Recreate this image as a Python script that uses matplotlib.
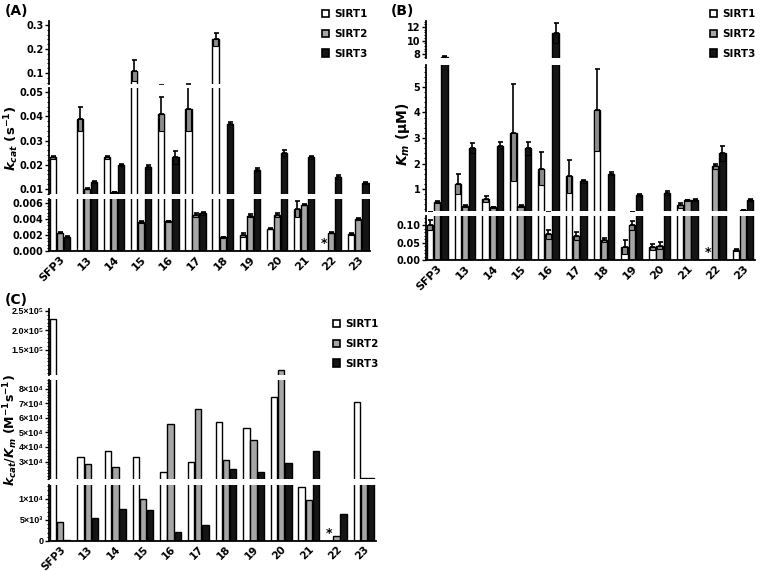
import numpy as np
import matplotlib.pyplot as plt
from matplotlib.patches import Patch
from matplotlib.ticker import AutoMinorLocator

plt.rcParams['font.family'] = ['DejaVu Sans']
plt.rcParams['font.weight'] = 'bold'
plt.rcParams['mathtext.fontset'] = 'custom'
plt.rcParams['mathtext.rm'] = 'DejaVu Sans:bold'
plt.rcParams['mathtext.bf'] = 'DejaVu Sans:bold'
plt.rcParams['mathtext.it'] = 'DejaVu Sans:italic:bold'

# --- DATA ---
compounds = ['SFP3', '13', '14', '15', '16', '17', '18', '19', '20', '21', '22', '23']
series = ['SIRT1', 'SIRT2', 'SIRT3']
nan = np.nan

# (A) kcat (s^-1)
kcat_sirt1 = [0.023, 0.039, 0.023, 0.11, 0.041, 0.043, 0.24, 0.0020, 0.0028, 0.0052, nan, 0.0021]
kcat_sirt2 = [0.0023, 0.010, 0.0086, 0.0036, 0.0037, 0.0045, 0.0017, 0.0044, 0.0045, 0.0058, 0.0023, 0.0040]
kcat_sirt3 = [0.0018, 0.013, 0.020, 0.019, 0.023, 0.0047, 0.037, 0.018, 0.025, 0.023, 0.015, 0.0125]
kcat_err1 = [0.0007, 0.005, 0.0008, 0.045, 0.007, 0.009, 0.026, 0.0002, 0.0001, 0.0010, nan, 0.0001]
kcat_err2 = [0.0001, 0.0002, 0.0001, 0.0001, 0.0001, 0.0002, 0.0001, 0.0002, 0.0002, 0.0001, 0.0001, 0.0001]
kcat_err3 = [0.0001, 0.0004, 0.0004, 0.0008, 0.0025, 0.0002, 0.0005, 0.0008, 0.0012, 0.0008, 0.0009, 0.0004]

# (B) Km (uM)
km_sirt1 = [0.10, 1.2, 0.6, 3.2, 1.8, 1.5, 4.1, 0.038, 0.037, 0.36, nan, 0.029]
km_sirt2 = [0.5, 0.33, 0.28, 0.33, 0.074, 0.069, 0.057, 0.10, 0.041, 0.57, 1.9, 0.16]
km_sirt3 = [7.6, 2.6, 2.7, 2.6, 11.1, 1.3, 1.6, 0.77, 0.85, 0.57, 2.4, 0.57]
km_err1 = [0.015, 0.4, 0.12, 1.9, 0.65, 0.65, 1.6, 0.02, 0.008, 0.1, nan, 0.003]
km_err2 = [0.04, 0.03, 0.02, 0.03, 0.013, 0.012, 0.005, 0.013, 0.01, 0.02, 0.1, 0.0]
km_err3 = [0.15, 0.2, 0.15, 0.25, 1.5, 0.07, 0.05, 0.05, 0.07, 0.05, 0.3, 0.04]

# (C) kcat/Km (M^-1 s^-1)
eff_sirt1 = [2.3e5, 3.3e4, 3.7e4, 3.3e4, 2.3e4, 3.0e4, 5.7e4, 5.3e4, 7.4e4, 1.29e4, nan, 7.1e4]
eff_sirt2 = [4.5e3, 2.8e4, 2.6e4, 1.0e4, 5.6e4, 6.6e4, 3.1e4, 4.5e4, 9.7e4, 9.8e3, 1.2e3, 1.9e4]
eff_sirt3 = [200, 5.4e3, 7.6e3, 7.4e3, 2.2e3, 3.7e3, 2.5e4, 2.3e4, 2.9e4, 3.7e4, 6.3e3, 1.9e4]
# ------------

W, H = 762, 571
fig = plt.figure(figsize=(7.62, 5.71), dpi=100)

colors = ['white', '#a6a6a6', '#151515']
x = np.arange(len(compounds))
offs = [-0.26, 0.0, 0.26]
bw = 0.23


def px_axes(x0, x1, y0, y1):
    return fig.add_axes([x0 / W, 1 - y1 / H, (x1 - x0) / W, (y1 - y0) / H])


def draw_segment(ax, vals, errs, ylim, ticks, labels, is_bottom, xsize):
    for k in range(3):
        v = np.array(vals[k], dtype=float)
        ok = ~np.isnan(v)
        xs = x[ok] + offs[k]
        ax.bar(xs, v[ok], width=bw, color=colors[k], edgecolor='k', linewidth=1.0)
        if errs is not None:
            e = np.array(errs[k], dtype=float)[ok]
            box = '#8c8c8c' if k < 2 else colors[2]
            ax.bar(xs, e, bottom=v[ok] - e, width=bw * 0.75, color=box,
                   edgecolor='k', linewidth=0.8)
            ax.errorbar(xs, v[ok], yerr=[np.zeros_like(e), e], fmt='none',
                        ecolor='k', elinewidth=1.2, capsize=1.8, capthick=1.2)
    ax.set_ylim(*ylim)
    ax.set_xlim(-0.4, 11.43)
    ax.set_yticks(ticks)
    ax.set_yticklabels(labels)
    ax.yaxis.set_minor_locator(AutoMinorLocator(5))
    ax.tick_params(axis='y', which='major', length=3, width=1, labelsize=7, pad=1)
    ax.tick_params(axis='y', which='minor', length=1.5, width=0.8)
    for s in ['top', 'right']:
        ax.spines[s].set_visible(False)
    ax.spines['left'].set_linewidth(1.3)
    if is_bottom:
        ax.spines['bottom'].set_linewidth(1.3)
        ax.set_xticks(x)
        ax.set_xticklabels(compounds, rotation=45, ha='right', rotation_mode='anchor',
                           fontsize=xsize, fontweight='bold')
        ax.tick_params(axis='x', length=0, pad=2.5)
        ax.text(x[10] + offs[0], ylim[1] * 0.02, '*', ha='center', va='bottom', fontsize=9)
    else:
        ax.spines['bottom'].set_visible(False)
        ax.set_xticks([])
    ax.patch.set_alpha(0)


def draw_panel(x0, x1, segs, vals, errs, xsize=8):
    axes = []
    for i, (y0, y1, ylim, ticks, labels) in enumerate(segs):
        ax = px_axes(x0, x1, y0, y1)
        draw_segment(ax, vals, errs, ylim, ticks, labels, i == len(segs) - 1, xsize)
        axes.append(ax)
    return axes


def add_legend(ax, xpx, ypx):
    handles = [Patch(facecolor=colors[k], edgecolor='k', linewidth=1.2, label=series[k])
               for k in range(3)]
    ax.legend(handles=handles, loc='upper left', bbox_to_anchor=(xpx / W, 1 - ypx / H),
              bbox_transform=fig.transFigure, frameon=False, fontsize=7.5,
              handlelength=0.7, handleheight=0.7, handletextpad=0.5, labelspacing=0.95,
              borderpad=0, borderaxespad=0)


def ylabel(xpx, ypx, text, size=10):
    fig.text(xpx / W, 1 - ypx / H, text, rotation=90, ha='center', va='center',
             fontsize=size, fontweight='bold')


# (A)
segA = [
    (21, 84, (0.054, 0.317), [0.1, 0.2, 0.3], ['0.1', '0.2', '0.3']),
    (88, 194, (0.0079, 0.0517), [0.01, 0.02, 0.03, 0.04, 0.05],
     ['0.01', '0.02', '0.03', '0.04', '0.05']),
    (199, 251, (0, 0.0065), [0, 0.002, 0.004, 0.006], ['0.000', '0.002', '0.004', '0.006']),
]
axA = draw_panel(49, 370, segA, [kcat_sirt1, kcat_sirt2, kcat_sirt3],
                 [kcat_err1, kcat_err2, kcat_err3])
ylabel(12, 138, '$k_{cat}$ (s$^{-1}$)', size=9.5)
add_legend(axA[0], 322, 9)
fig.text(5 / W, 1 - 11 / H, '(A)', fontsize=10, fontweight='bold', va='center')

# (B)
segB = [
    (21, 58, (7.4, 12.9), [8, 10, 12], ['8', '10', '12']),
    (65, 211, (0.14, 5.86), [1, 2, 3, 4, 5], ['1', '2', '3', '4', '5']),
    (216, 260, (0, 0.126), [0, 0.05, 0.10], ['0.00', '0.05', '0.10']),
]
axB = draw_panel(426, 755, segB, [km_sirt1, km_sirt2, km_sirt3],
                 [km_err1, km_err2, km_err3])
ylabel(403, 134, '$K_m$ (\u00b5M)')
add_legend(axB[0], 710, 9)
fig.text(391 / W, 1 - 11 / H, '(B)', fontsize=10, fontweight='bold', va='center')

# (C)
segC = [
    (309, 375, (0.85e5, 2.55e5), [1.5e5, 2.0e5, 2.5e5],
     ['1.5\u00d710\u2075', '2.0\u00d710\u2075', '2.5\u00d710\u2075']),
    (380, 479, (1.8e4, 8.6e4), [3e4, 4e4, 5e4, 6e4, 7e4, 8e4],
     ['%d\u00d710\u2074' % d for d in range(3, 9)]),
    (485, 541, (0, 1.33e4), [0, 5e3, 1e4], ['0', '5\u00d710\u00b3', '1\u00d710\u2074']),
]
axC = draw_panel(49, 376, segC, [eff_sirt1, eff_sirt2, eff_sirt3], None, xsize=7.5)
for ax in axC:
    for t in ax.get_yticklabels():
        t.set_fontfamily(['Liberation Sans', 'DejaVu Sans'])
        t.set_fontsize(6.5)
ylabel(11, 430, '$k_{cat}$/$K_m$ (M$^{-1}$s$^{-1}$)', size=9)
add_legend(axC[0], 333, 319)
fig.text(5 / W, 1 - 300 / H, '(C)', fontsize=10, fontweight='bold', va='center')

fig.savefig('out.png', dpi=100)
